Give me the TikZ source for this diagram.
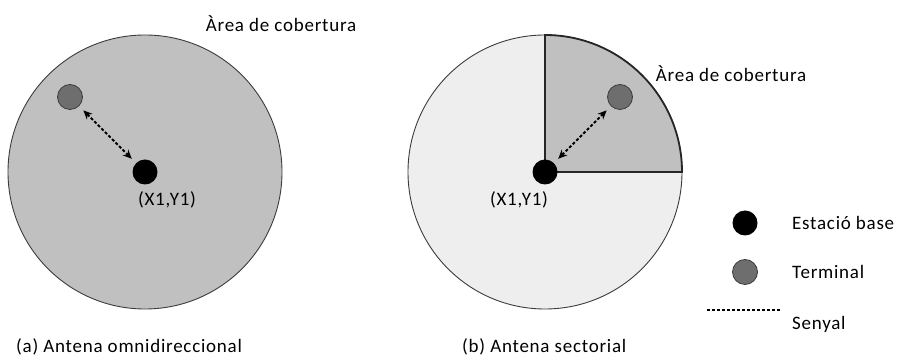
\documentclass[tikz,border=0pt]{standalone}
\usepackage{fontspec}
\setmainfont{Carlito}[LetterSpace=4]
\usetikzlibrary{arrows.meta}
\definecolor{areagray}{RGB}{192,192,192}
\definecolor{lightarea}{RGB}{238,238,238}
\definecolor{termgray}{RGB}{110,110,110}
\definecolor{edgegray}{RGB}{60,60,60}
\begin{document}
\begin{tikzpicture}[x=1pt,y=1pt,
  lbl/.style={font=\fontsize{19}{22}\selectfont, inner sep=0pt},
  basedot/.style={circle, fill=black, minimum size=25pt, inner sep=0pt},
  termdot/.style={circle, fill=termgray, draw=edgegray, line width=0.8pt, minimum size=25pt, inner sep=0pt},
  signal/.style={densely dashed, line width=1.8pt, {Stealth[length=9pt,width=8pt]}-{Stealth[length=9pt,width=8pt]}, shorten <=6pt, shorten >=6pt},
  outline/.style={draw=edgegray, line width=0.9pt}]
\useasboundingbox (0,0) rectangle (899,358);
\fill[white] (0,0) rectangle (899,358);
% (a)
\draw[outline, fill=areagray] (145,186) circle (137);
\node[basedot] (ba) at (145,186) {};
\node[termdot] (ta) at (70,261) {};
\draw[signal] (ta) -- (ba);
\node[lbl] (cova) at (281,334) {Àrea de cobertura};
\node[lbl] (xya) at (167,158) {(X1,Y1)};
\node[lbl, anchor=west] (capa) at (16,11) {(a) Antena omnidireccional};
% (b)
\draw[outline, fill=lightarea] (545,186) circle (137);
\draw[line width=1.8pt, draw=black!85, fill=areagray] (545,186) -- (545,323) arc[start angle=90, end angle=0, radius=137] -- cycle;
\node[basedot] (bb) at (545,186) {};
\node[termdot] (tb) at (620,261) {};
\draw[signal] (bb) -- (tb);
\node[lbl] (covb) at (731,284) {Àrea de cobertura};
\node[lbl] (xyb) at (519,158) {(X1,Y1)};
\node[lbl, anchor=west] (capb) at (462,11) {(b) Antena sectorial};
% legend
\node[basedot] (lb) at (745,135) {};
\node[termdot] (lt) at (745,86) {};
\coordinate (ls1) at (707,48);
\coordinate (ls2) at (780,48);
\draw[densely dashed, line width=1.8pt] (ls1) -- (ls2);
\node[lbl, anchor=west] (lbt) at (792,135) {Estació base};
\node[lbl, anchor=west] (ltt) at (792,86) {Terminal};
\node[lbl, anchor=west] (lst) at (792,34) {Senyal};
\end{tikzpicture}
\end{document}
